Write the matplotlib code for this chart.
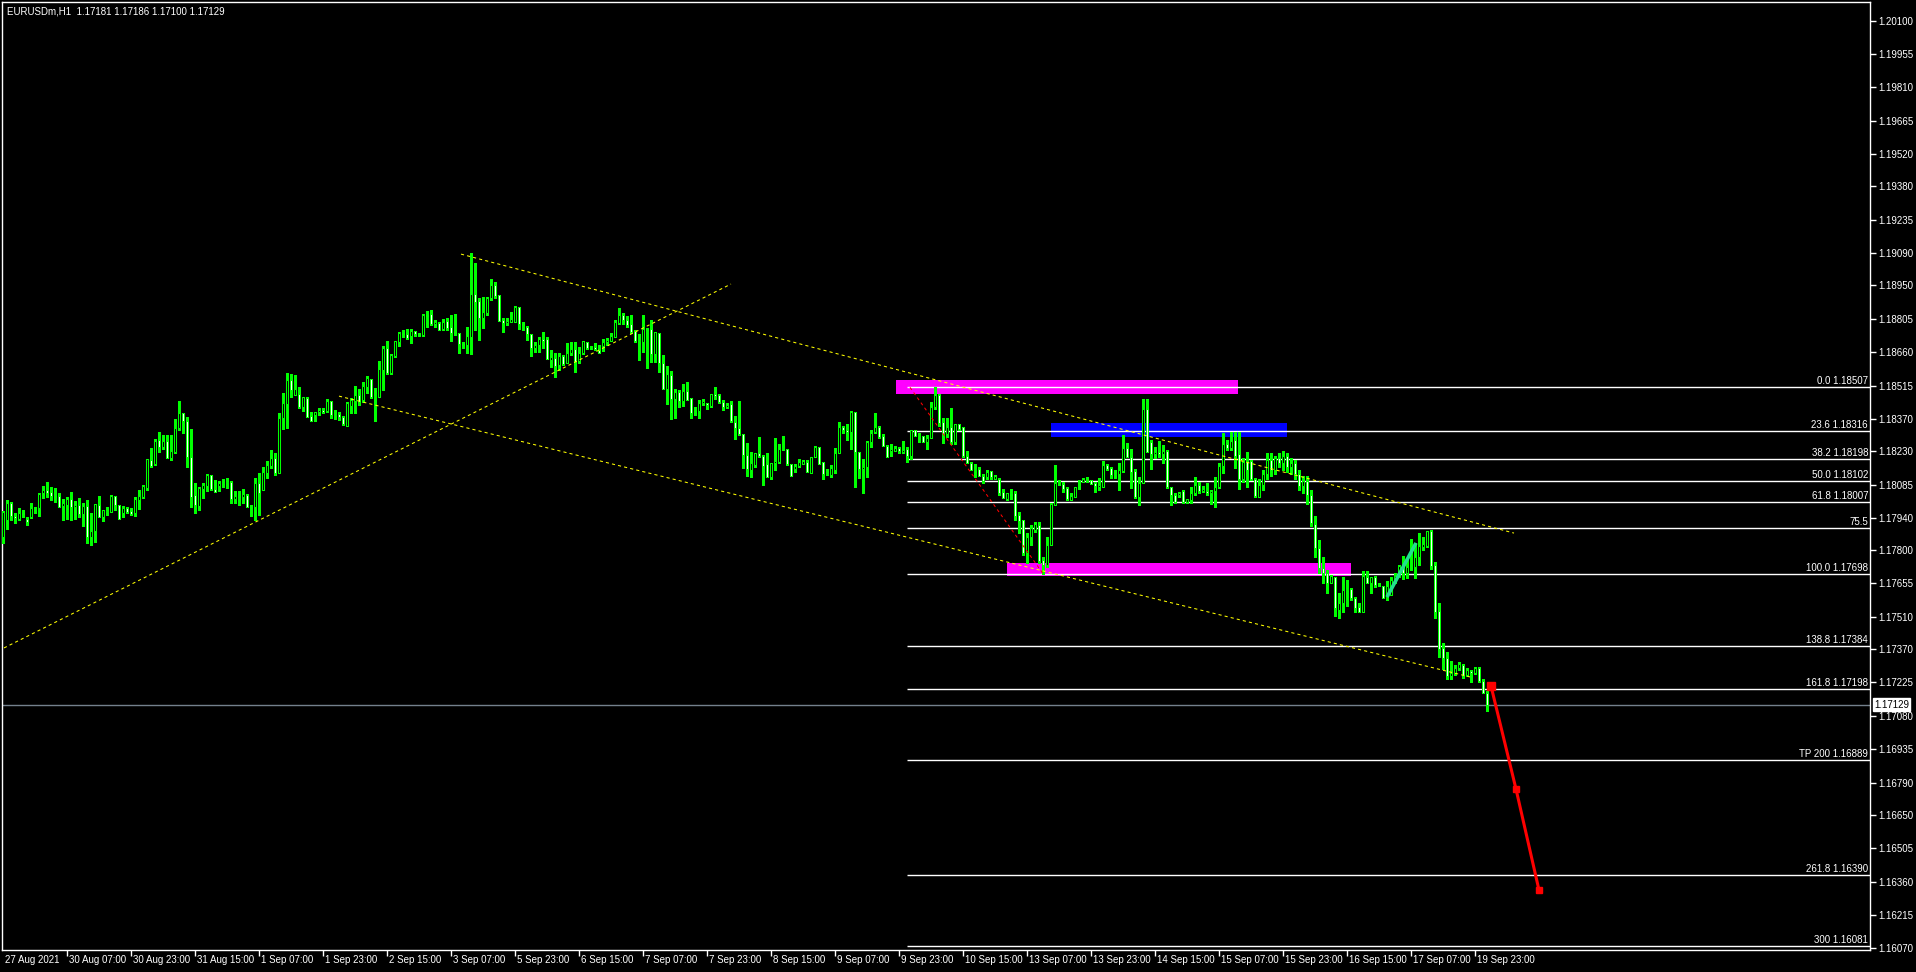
import matplotlib
matplotlib.use("Agg")
import matplotlib.pyplot as plt
from matplotlib.patches import Rectangle
import numpy as np

plt.rcParams["font.family"] = ["Liberation Sans", "DejaVu Sans"]

# hourly EURUSD bars, 27 Aug 2021 .. 20 Sep 2021 (bar index = position)
opens = [
    1.17858, 1.17931, 1.18003, 1.17948, 1.17936, 1.17960, 1.17934, 1.17945,
    1.17977, 1.17981, 1.18047, 1.18061, 1.18051, 1.18036, 1.18035, 1.17993,
    1.17996, 1.18020, 1.17986, 1.17994, 1.17957, 1.17992, 1.17858, 1.17884,
    1.17996, 1.17942, 1.17967, 1.17967, 1.18035, 1.17996, 1.17963, 1.17983,
    1.17968, 1.17960, 1.18018, 1.18029, 1.18071, 1.18191, 1.18172, 1.18278,
    1.18246, 1.18272, 1.18200, 1.18228, 1.18329, 1.18394, 1.18359, 1.18203,
    1.18038, 1.17993, 1.18064, 1.18080, 1.18125, 1.18067, 1.18080, 1.18090,
    1.18093, 1.18094, 1.18023, 1.18035, 1.18029, 1.18038, 1.17989, 1.17989,
    1.18090, 1.18061, 1.18134, 1.18167, 1.18199, 1.18137, 1.18376, 1.18434,
    1.18539, 1.18474, 1.18479, 1.18423, 1.18460, 1.18383, 1.18387, 1.18399,
    1.18409, 1.18405, 1.18448, 1.18389, 1.18392, 1.18377, 1.18341, 1.18428,
    1.18450, 1.18474, 1.18453, 1.18510, 1.18544, 1.18467, 1.18467, 1.18583,
    1.18678, 1.18568, 1.18644, 1.18706, 1.18742, 1.18738, 1.18732, 1.18751,
    1.18740, 1.18735, 1.18822, 1.18825, 1.18783, 1.18786, 1.18760, 1.18796,
    1.18771, 1.18746, 1.18742, 1.18696, 1.18691, 1.18728, 1.18912, 1.18884,
    1.18807, 1.18829, 1.18894, 1.18952, 1.18909, 1.18800, 1.18785, 1.18792,
    1.18792, 1.18855, 1.18782, 1.18771, 1.18737, 1.18677, 1.18691, 1.18716,
    1.18716, 1.18626, 1.18636, 1.18604, 1.18643, 1.18614, 1.18658, 1.18672,
    1.18622, 1.18655, 1.18703, 1.18680, 1.18682, 1.18669, 1.18688, 1.18706,
    1.18710, 1.18727, 1.18788, 1.18821, 1.18800, 1.18781, 1.18753, 1.18710,
    1.18706, 1.18759, 1.18759, 1.18652, 1.18742, 1.18611, 1.18500, 1.18561,
    1.18457, 1.18488, 1.18449, 1.18491, 1.18459, 1.18394, 1.18406, 1.18438,
    1.18438, 1.18428, 1.18477, 1.18474, 1.18445, 1.18420, 1.18433, 1.18358,
    1.18329, 1.18304, 1.18213, 1.18148, 1.18169, 1.18220, 1.18208, 1.18172,
    1.18116, 1.18177, 1.18184, 1.18239, 1.18239, 1.18172, 1.18152, 1.18165,
    1.18172, 1.18181, 1.18136, 1.18203, 1.18246, 1.18181, 1.18129, 1.18126,
    1.18148, 1.18220, 1.18333, 1.18321, 1.18311, 1.18398, 1.18227, 1.18152,
    1.18159, 1.18268, 1.18314, 1.18333, 1.18295, 1.18253, 1.18232, 1.18232,
    1.18245, 1.18227, 1.18239, 1.18210, 1.18321, 1.18295, 1.18295, 1.18271,
    1.18285, 1.18420, 1.18473, 1.18355, 1.18303, 1.18336, 1.18268, 1.18347,
    1.18333, 1.18210, 1.18180, 1.18148, 1.18151, 1.18122, 1.18119, 1.18143,
    1.18111, 1.18111, 1.18053, 1.18022, 1.18042, 1.18047, 1.17953, 1.17931,
    1.17789, 1.17858, 1.17887, 1.17908, 1.17757, 1.17735, 1.17822, 1.17996,
    1.18090, 1.18086, 1.18068, 1.18018, 1.18032, 1.18073, 1.18097, 1.18109,
    1.18105, 1.18093, 1.18076, 1.18076, 1.18170, 1.18155, 1.18126, 1.18129,
    1.18144, 1.18242, 1.18206, 1.18145, 1.18032, 1.18093, 1.18412, 1.18268,
    1.18217, 1.18225, 1.18216, 1.18231, 1.18076, 1.18039, 1.18039, 1.18057,
    1.18011, 1.18018, 1.18050, 1.18081, 1.18058, 1.18057, 1.18047, 1.18057,
    1.18073, 1.18165, 1.18259, 1.18242, 1.18278, 1.18217, 1.18107, 1.18184,
    1.18187, 1.18109, 1.18032, 1.18083, 1.18130, 1.18190, 1.18150, 1.18200,
    1.18180, 1.18210, 1.18160, 1.18180, 1.18130, 1.18080, 1.18100, 1.18040,
    1.17914, 1.17811, 1.17721, 1.17702, 1.17659, 1.17682, 1.17540, 1.17570,
    1.17627, 1.17630, 1.17591, 1.17552, 1.17533, 1.17682, 1.17656, 1.17682,
    1.17649, 1.17644, 1.17598, 1.17605, 1.17663, 1.17688, 1.17728, 1.17699,
    1.17726, 1.17726, 1.17772, 1.17815, 1.17818, 1.17881, 1.17736, 1.17536,
    1.17374, 1.17330, 1.17251, 1.17265, 1.17287, 1.17301, 1.17258, 1.17275,
    1.17265, 1.17290, 1.17233, 1.17181,
]
highs = [
    1.17971, 1.18018, 1.18010, 1.17960, 1.17981, 1.17974, 1.17945, 1.18003,
    1.17989, 1.18047, 1.18078, 1.18096, 1.18075, 1.18068, 1.18047, 1.18020,
    1.18029, 1.18052, 1.18015, 1.18026, 1.18003, 1.18018, 1.17960, 1.17999,
    1.18035, 1.17974, 1.17986, 1.18040, 1.18035, 1.17996, 1.17992, 1.17989,
    1.17981, 1.18029, 1.18061, 1.18083, 1.18194, 1.18242, 1.18281, 1.18313,
    1.18300, 1.18300, 1.18300, 1.18369, 1.18448, 1.18394, 1.18380, 1.18325,
    1.18093, 1.18075, 1.18093, 1.18129, 1.18125, 1.18104, 1.18102, 1.18107,
    1.18113, 1.18102, 1.18058, 1.18058, 1.18067, 1.18044, 1.17996, 1.18113,
    1.18133, 1.18163, 1.18185, 1.18235, 1.18221, 1.18397, 1.18481, 1.18568,
    1.18565, 1.18561, 1.18508, 1.18467, 1.18464, 1.18402, 1.18402, 1.18419,
    1.18416, 1.18457, 1.18448, 1.18409, 1.18402, 1.18383, 1.18442, 1.18460,
    1.18513, 1.18499, 1.18532, 1.18558, 1.18544, 1.18503, 1.18623, 1.18687,
    1.18707, 1.18652, 1.18709, 1.18748, 1.18757, 1.18761, 1.18760, 1.18753,
    1.18742, 1.18826, 1.18839, 1.18843, 1.18800, 1.18789, 1.18803, 1.18807,
    1.18822, 1.18826, 1.18742, 1.18706, 1.18768, 1.19090, 1.19046, 1.18894,
    1.18901, 1.18901, 1.18977, 1.18964, 1.18909, 1.18807, 1.18807, 1.18836,
    1.18860, 1.18855, 1.18792, 1.18774, 1.18737, 1.18706, 1.18727, 1.18749,
    1.18727, 1.18669, 1.18655, 1.18658, 1.18648, 1.18698, 1.18706, 1.18706,
    1.18684, 1.18708, 1.18706, 1.18687, 1.18698, 1.18691, 1.18716, 1.18723,
    1.18745, 1.18800, 1.18850, 1.18829, 1.18819, 1.18821, 1.18756, 1.18739,
    1.18821, 1.18763, 1.18800, 1.18749, 1.18745, 1.18648, 1.18600, 1.18578,
    1.18500, 1.18496, 1.18522, 1.18532, 1.18459, 1.18423, 1.18452, 1.18455,
    1.18441, 1.18477, 1.18507, 1.18477, 1.18452, 1.18441, 1.18448, 1.18383,
    1.18448, 1.18304, 1.18264, 1.18228, 1.18223, 1.18290, 1.18213, 1.18220,
    1.18180, 1.18285, 1.18261, 1.18295, 1.18239, 1.18172, 1.18174, 1.18194,
    1.18191, 1.18191, 1.18203, 1.18252, 1.18249, 1.18181, 1.18153, 1.18169,
    1.18242, 1.18358, 1.18339, 1.18350, 1.18404, 1.18398, 1.18227, 1.18198,
    1.18275, 1.18324, 1.18394, 1.18339, 1.18303, 1.18256, 1.18263, 1.18252,
    1.18246, 1.18275, 1.18246, 1.18324, 1.18324, 1.18307, 1.18295, 1.18300,
    1.18444, 1.18507, 1.18478, 1.18375, 1.18372, 1.18418, 1.18350, 1.18350,
    1.18336, 1.18230, 1.18184, 1.18172, 1.18162, 1.18130, 1.18148, 1.18143,
    1.18126, 1.18114, 1.18065, 1.18047, 1.18064, 1.18057, 1.17967, 1.17931,
    1.17876, 1.17909, 1.17921, 1.17922, 1.17769, 1.17858, 1.18003, 1.18170,
    1.18105, 1.18097, 1.18073, 1.18047, 1.18076, 1.18105, 1.18112, 1.18116,
    1.18105, 1.18097, 1.18112, 1.18187, 1.18174, 1.18160, 1.18148, 1.18180,
    1.18300, 1.18264, 1.18238, 1.18151, 1.18119, 1.18456, 1.18456, 1.18278,
    1.18249, 1.18274, 1.18257, 1.18235, 1.18076, 1.18047, 1.18054, 1.18061,
    1.18022, 1.18073, 1.18119, 1.18097, 1.18079, 1.18090, 1.18061, 1.18116,
    1.18177, 1.18310, 1.18278, 1.18315, 1.18315, 1.18315, 1.18199, 1.18228,
    1.18192, 1.18112, 1.18107, 1.18150, 1.18220, 1.18220, 1.18210, 1.18220,
    1.18230, 1.18220, 1.18200, 1.18190, 1.18150, 1.18120, 1.18120, 1.18060,
    1.17948, 1.17844, 1.17772, 1.17714, 1.17692, 1.17685, 1.17613, 1.17682,
    1.17670, 1.17634, 1.17595, 1.17569, 1.17710, 1.17710, 1.17685, 1.17688,
    1.17656, 1.17644, 1.17666, 1.17682, 1.17699, 1.17736, 1.17775, 1.17757,
    1.17847, 1.17830, 1.17873, 1.17859, 1.17883, 1.17888, 1.17750, 1.17572,
    1.17398, 1.17359, 1.17319, 1.17301, 1.17316, 1.17306, 1.17287, 1.17279,
    1.17294, 1.17294, 1.17239, 1.17186,
]
lows = [
    1.17832, 1.17890, 1.17931, 1.17916, 1.17931, 1.17945, 1.17909, 1.17941,
    1.17963, 1.17948, 1.18025, 1.18032, 1.18018, 1.18010, 1.17989, 1.17931,
    1.17936, 1.17931, 1.17936, 1.17945, 1.17905, 1.17832, 1.17821, 1.17837,
    1.17945, 1.17928, 1.17952, 1.17967, 1.17974, 1.17934, 1.17945, 1.17963,
    1.17952, 1.17948, 1.17977, 1.18025, 1.18061, 1.18162, 1.18170, 1.18228,
    1.18238, 1.18199, 1.18191, 1.18223, 1.18322, 1.18307, 1.18162, 1.17989,
    1.17963, 1.17974, 1.18025, 1.18058, 1.18061, 1.18054, 1.18058, 1.18073,
    1.18070, 1.18003, 1.18003, 1.17996, 1.18006, 1.17986, 1.17948, 1.17931,
    1.17952, 1.18061, 1.18112, 1.18156, 1.18127, 1.18134, 1.18327, 1.18332,
    1.18467, 1.18474, 1.18419, 1.18405, 1.18380, 1.18363, 1.18363, 1.18387,
    1.18395, 1.18402, 1.18376, 1.18369, 1.18366, 1.18344, 1.18341, 1.18395,
    1.18397, 1.18431, 1.18442, 1.18481, 1.18460, 1.18363, 1.18467, 1.18496,
    1.18565, 1.18565, 1.18641, 1.18687, 1.18728, 1.18718, 1.18699, 1.18731,
    1.18731, 1.18731, 1.18771, 1.18778, 1.18771, 1.18757, 1.18757, 1.18757,
    1.18710, 1.18735, 1.18658, 1.18677, 1.18655, 1.18652, 1.18757, 1.18713,
    1.18767, 1.18822, 1.18887, 1.18894, 1.18797, 1.18749, 1.18778, 1.18790,
    1.18792, 1.18759, 1.18756, 1.18713, 1.18645, 1.18662, 1.18662, 1.18677,
    1.18629, 1.18597, 1.18554, 1.18582, 1.18604, 1.18614, 1.18648, 1.18575,
    1.18614, 1.18652, 1.18672, 1.18674, 1.18669, 1.18655, 1.18666, 1.18691,
    1.18708, 1.18727, 1.18781, 1.18781, 1.18771, 1.18745, 1.18706, 1.18626,
    1.18662, 1.18593, 1.18616, 1.18616, 1.18575, 1.18498, 1.18435, 1.18371,
    1.18374, 1.18423, 1.18428, 1.18452, 1.18375, 1.18387, 1.18373, 1.18430,
    1.18413, 1.18423, 1.18455, 1.18441, 1.18409, 1.18416, 1.18355, 1.18281,
    1.18300, 1.18158, 1.18122, 1.18119, 1.18162, 1.18206, 1.18082, 1.18116,
    1.18107, 1.18148, 1.18177, 1.18234, 1.18169, 1.18122, 1.18140, 1.18162,
    1.18172, 1.18140, 1.18133, 1.18203, 1.18174, 1.18111, 1.18126, 1.18119,
    1.18136, 1.18220, 1.18307, 1.18278, 1.18239, 1.18075, 1.18114, 1.18049,
    1.18116, 1.18249, 1.18307, 1.18285, 1.18252, 1.18206, 1.18208, 1.18232,
    1.18223, 1.18220, 1.18184, 1.18194, 1.18295, 1.18271, 1.18271, 1.18239,
    1.18285, 1.18415, 1.18339, 1.18266, 1.18292, 1.18263, 1.18263, 1.18324,
    1.18206, 1.18177, 1.18148, 1.18116, 1.18122, 1.18090, 1.18111, 1.18111,
    1.18107, 1.18039, 1.18025, 1.18018, 1.18021, 1.17931, 1.17873, 1.17779,
    1.17743, 1.17822, 1.17880, 1.17746, 1.17698, 1.17728, 1.17822, 1.17996,
    1.18083, 1.18054, 1.18018, 1.18018, 1.18029, 1.18064, 1.18097, 1.18097,
    1.18087, 1.18054, 1.18061, 1.18073, 1.18148, 1.18112, 1.18112, 1.18061,
    1.18141, 1.18203, 1.18068, 1.18025, 1.17996, 1.18093, 1.18228, 1.18151,
    1.18199, 1.18203, 1.18180, 1.18068, 1.17996, 1.18003, 1.18032, 1.18006,
    1.18003, 1.18003, 1.18039, 1.18050, 1.18053, 1.18039, 1.18000, 1.17989,
    1.18068, 1.18136, 1.18235, 1.18235, 1.18155, 1.18064, 1.18097, 1.18076,
    1.18105, 1.18032, 1.18032, 1.18060, 1.18110, 1.18120, 1.18130, 1.18160,
    1.18150, 1.18140, 1.18130, 1.18110, 1.18060, 1.18050, 1.18000, 1.17905,
    1.17772, 1.17699, 1.17659, 1.17615, 1.17656, 1.17514, 1.17503, 1.17533,
    1.17558, 1.17584, 1.17533, 1.17533, 1.17529, 1.17656, 1.17615, 1.17639,
    1.17642, 1.17591, 1.17584, 1.17605, 1.17656, 1.17685, 1.17673, 1.17678,
    1.17714, 1.17678, 1.17736, 1.17801, 1.17815, 1.17718, 1.17504, 1.17337,
    1.17282, 1.17240, 1.17240, 1.17258, 1.17279, 1.17243, 1.17251, 1.17229,
    1.17262, 1.17225, 1.17178, 1.17100,
]
closes = [
    1.17967, 1.18003, 1.17948, 1.17938, 1.17960, 1.17958, 1.17923, 1.17981,
    1.17979, 1.18044, 1.18061, 1.18050, 1.18036, 1.18029, 1.17989, 1.18003,
    1.18020, 1.17986, 1.17996, 1.17955, 1.17992, 1.17858, 1.17883, 1.17999,
    1.17945, 1.17974, 1.17969, 1.18035, 1.17996, 1.17934, 1.17983, 1.17967,
    1.17957, 1.18023, 1.18035, 1.18078, 1.18194, 1.18167, 1.18274, 1.18246,
    1.18272, 1.18199, 1.18230, 1.18329, 1.18394, 1.18362, 1.18203, 1.18032,
    1.17996, 1.18068, 1.18081, 1.18125, 1.18067, 1.18054, 1.18090, 1.18093,
    1.18094, 1.18023, 1.18035, 1.18029, 1.18044, 1.17989, 1.17986, 1.18090,
    1.18047, 1.18138, 1.18170, 1.18199, 1.18137, 1.18373, 1.18438, 1.18539,
    1.18496, 1.18499, 1.18423, 1.18467, 1.18380, 1.18363, 1.18399, 1.18409,
    1.18402, 1.18448, 1.18387, 1.18390, 1.18377, 1.18347, 1.18438, 1.18453,
    1.18474, 1.18445, 1.18513, 1.18548, 1.18467, 1.18471, 1.18586, 1.18677,
    1.18568, 1.18647, 1.18707, 1.18742, 1.18740, 1.18720, 1.18751, 1.18740,
    1.18736, 1.18822, 1.18819, 1.18783, 1.18790, 1.18757, 1.18793, 1.18767,
    1.18745, 1.18742, 1.18696, 1.18691, 1.18731, 1.18913, 1.18880, 1.18807,
    1.18833, 1.18894, 1.18952, 1.18906, 1.18797, 1.18785, 1.18795, 1.18804,
    1.18855, 1.18781, 1.18777, 1.18737, 1.18677, 1.18691, 1.18716, 1.18710,
    1.18629, 1.18638, 1.18601, 1.18645, 1.18609, 1.18658, 1.18672, 1.18619,
    1.18655, 1.18708, 1.18680, 1.18681, 1.18674, 1.18658, 1.18703, 1.18713,
    1.18730, 1.18792, 1.18821, 1.18800, 1.18778, 1.18749, 1.18710, 1.18713,
    1.18759, 1.18757, 1.18652, 1.18749, 1.18611, 1.18501, 1.18565, 1.18458,
    1.18485, 1.18448, 1.18491, 1.18452, 1.18394, 1.18390, 1.18438, 1.18449,
    1.18429, 1.18477, 1.18471, 1.18445, 1.18420, 1.18432, 1.18362, 1.18329,
    1.18303, 1.18213, 1.18151, 1.18177, 1.18220, 1.18208, 1.18165, 1.18119,
    1.18177, 1.18187, 1.18239, 1.18243, 1.18172, 1.18123, 1.18165, 1.18181,
    1.18187, 1.18140, 1.18203, 1.18249, 1.18174, 1.18129, 1.18137, 1.18155,
    1.18220, 1.18333, 1.18321, 1.18311, 1.18398, 1.18227, 1.18152, 1.18159,
    1.18268, 1.18310, 1.18336, 1.18292, 1.18252, 1.18206, 1.18239, 1.18245,
    1.18231, 1.18237, 1.18210, 1.18321, 1.18295, 1.18300, 1.18271, 1.18285,
    1.18420, 1.18473, 1.18353, 1.18303, 1.18333, 1.18268, 1.18347, 1.18326,
    1.18210, 1.18180, 1.18148, 1.18152, 1.18122, 1.18101, 1.18140, 1.18116,
    1.18122, 1.18049, 1.18027, 1.18047, 1.18038, 1.17950, 1.17926, 1.17786,
    1.17858, 1.17898, 1.17912, 1.17753, 1.17735, 1.17822, 1.18000, 1.18090,
    1.18094, 1.18066, 1.18022, 1.18037, 1.18073, 1.18068, 1.18109, 1.18106,
    1.18087, 1.18079, 1.18083, 1.18170, 1.18152, 1.18126, 1.18129, 1.18148,
    1.18242, 1.18206, 1.18141, 1.18032, 1.18093, 1.18412, 1.18228, 1.18217,
    1.18225, 1.18216, 1.18231, 1.18073, 1.18039, 1.18011, 1.18047, 1.18011,
    1.18022, 1.18050, 1.18081, 1.18058, 1.18066, 1.18047, 1.18057, 1.18073,
    1.18165, 1.18259, 1.18242, 1.18274, 1.18210, 1.18107, 1.18184, 1.18148,
    1.18109, 1.18035, 1.18083, 1.18130, 1.18190, 1.18150, 1.18200, 1.18180,
    1.18210, 1.18160, 1.18180, 1.18130, 1.18080, 1.18100, 1.18040, 1.17917,
    1.17811, 1.17721, 1.17702, 1.17659, 1.17688, 1.17547, 1.17572, 1.17627,
    1.17631, 1.17594, 1.17550, 1.17533, 1.17688, 1.17656, 1.17682, 1.17649,
    1.17648, 1.17594, 1.17644, 1.17670, 1.17688, 1.17731, 1.17702, 1.17726,
    1.17728, 1.17772, 1.17818, 1.17827, 1.17881, 1.17731, 1.17533, 1.17371,
    1.17330, 1.17251, 1.17268, 1.17287, 1.17306, 1.17251, 1.17279, 1.17265,
    1.17287, 1.17233, 1.17181, 1.17129,
]

date_labels = [
    "27 Aug 2021", "30 Aug 07:00", "30 Aug 23:00", "31 Aug 15:00", "1 Sep 07:00",
    "1 Sep 23:00", "2 Sep 15:00", "3 Sep 07:00", "5 Sep 23:00", "6 Sep 15:00",
    "7 Sep 07:00", "7 Sep 23:00", "8 Sep 15:00", "9 Sep 07:00", "9 Sep 23:00",
    "10 Sep 15:00", "13 Sep 07:00", "13 Sep 23:00", "14 Sep 15:00", "15 Sep 07:00",
    "15 Sep 23:00", "16 Sep 15:00", "17 Sep 07:00", "19 Sep 23:00",
]
date_bars = [16 * k for k in range(len(date_labels))]

price_ticks = [
    1.20100, 1.19955, 1.19810, 1.19665, 1.19520, 1.19380, 1.19235, 1.19090,
    1.18950, 1.18805, 1.18660, 1.18515, 1.18370, 1.18230, 1.18085, 1.17940,
    1.17800, 1.17655, 1.17510, 1.17370, 1.17225, 1.17080, 1.16935, 1.16790,
    1.16650, 1.16505, 1.16360, 1.16215, 1.16070,
]

fib_prices = [1.18507, 1.18316, 1.18198, 1.18102, 1.18007, 1.17896, 1.17698,
              1.17384, 1.17198, 1.16889, 1.16390, 1.16081]
fib_labels = ["0.0 1.18507", "23.6 1.18316", "38.2 1.18198", "50.0 1.18102",
              "61.8 1.18007", "75.5", "100.0 1.17698", "138.8 1.17384",
              "161.8 1.17198", "TP 200 1.16889", "261.8 1.16390", "300 1.16081"]
fib_start = 226

# (bar0, bar1, price_low, price_high, colour)
zones = [
    (223.25, 308.75, 1.18478, 1.18539, "#ff00ff"),
    (262.0, 321.0, 1.18291, 1.18352, "#0000ff"),
    (251.0, 337.0, 1.17687, 1.17744, "#ff00ff"),
]
# dotted trend lines: (bars, prices, colour)
trend_lines = [
    ([114.5, 377.75], [1.19086, 1.17874], "#ffff00"),
    ([84.0, 366.75], [1.18469, 1.17249], "#ffff00"),
    ([0.25, 182.0], [1.17375, 1.18956], "#ffff00"),
    ([226.75, 260.0], [1.18507, 1.17698], "#ff0000"),
]
swing_bars = [346.0, 353.25]
swing_prices = [1.17596, 1.17831]
proj_bars = [372.0, 378.25, 384.0]
proj_prices = [1.17210, 1.16762, 1.16323]
last_price = 1.17129
title = "EURUSDm,H1  1.17181 1.17186 1.17100 1.17129"

LIME = "#00ff00"
W, H = 1916, 972
FS = 7

fig = plt.figure(figsize=(W / 100, H / 100), dpi=100, facecolor="black")
ax = fig.add_axes([2 / W, 22 / H, 1868 / W, 948 / H])
ax.set_facecolor("black")
ax.set_xlim(-0.25, 466.75)
ax.set_ylim(1.160627, 1.201813)

o = np.array(opens)
h = np.array(highs)
l = np.array(lows)
c = np.array(closes)
x = np.arange(len(o))

for b0, b1, p0, p1, col in zones:
    ax.add_patch(Rectangle((b0, p0), b1 - b0, p1 - p0, facecolor=col,
                           edgecolor="none", zorder=1))

ax.hlines(fib_prices, fib_start, 466.75, colors="white", lw=1.0, zorder=2)
for p, lab in zip(fib_prices, fib_labels):
    ax.annotate(lab, xy=(1.0, p), xycoords=("axes fraction", "data"),
                xytext=(-2, 1), textcoords="offset pixels", ha="right",
                va="bottom", color="white", fontsize=FS, zorder=7)

ax.axhline(last_price, color="#74808c", lw=1.0, zorder=2)

fills = np.where(c >= o, "black", "white")
ax.vlines(x, l, h, colors=LIME, lw=0.75, zorder=4, antialiased=False)
ax.bar(x, np.abs(c - o), bottom=np.minimum(o, c), width=0.5, color=fills,
       edgecolor=LIME, linewidth=0.75, zorder=5)

for bx, py, col in trend_lines:
    ax.plot(bx, py, color=col, lw=0.75, ls=(0, (3, 3)), zorder=6)

ax.plot(swing_bars, swing_prices, color="#22e08e", lw=2.6,
        solid_capstyle="butt", zorder=7)
ax.plot(proj_bars, proj_prices, color="#ff0000", lw=2.2, zorder=7)
ax.plot(proj_bars[:1], proj_prices[:1], "s", color="#ff0000", ms=6, zorder=8)
ax.plot(proj_bars[1:], proj_prices[1:], "s", color="#ff0000", ms=4, zorder=8)

for sp in ax.spines.values():
    sp.set_color("white")
    sp.set_linewidth(1.0)

ax.yaxis.tick_right()
ax.set_yticks(price_ticks)
ax.set_yticklabels([f"{p:.5f}" for p in price_ticks])
ax.tick_params(axis="y", direction="out", length=4, width=1, colors="white",
               labelsize=FS, pad=2)
ax.set_xticks(date_bars[1:])
ax.set_xticklabels([])
ax.tick_params(axis="x", direction="out", length=4, width=1, colors="white")
for bx, lab in zip(date_bars, date_labels):
    ax.annotate(lab, xy=(bx, 0.0), xycoords=("data", "axes fraction"),
                xytext=(2, -5), textcoords="offset pixels", ha="left",
                va="top", color="white", fontsize=FS, annotation_clip=False)

ax.annotate(f"{last_price:.5f}", xy=(1.0, last_price),
            xycoords=("axes fraction", "data"), xytext=(4, 0),
            textcoords="offset pixels", ha="left", va="center", color="black",
            fontsize=FS, annotation_clip=False,
            bbox=dict(boxstyle="square,pad=0.12", fc="white", ec="white"))

fig.text(7 / W, 1 - 11 / H, title, color="white", fontsize=FS,
         ha="left", va="center")

fig.savefig("out.png", dpi=100, facecolor="black")
